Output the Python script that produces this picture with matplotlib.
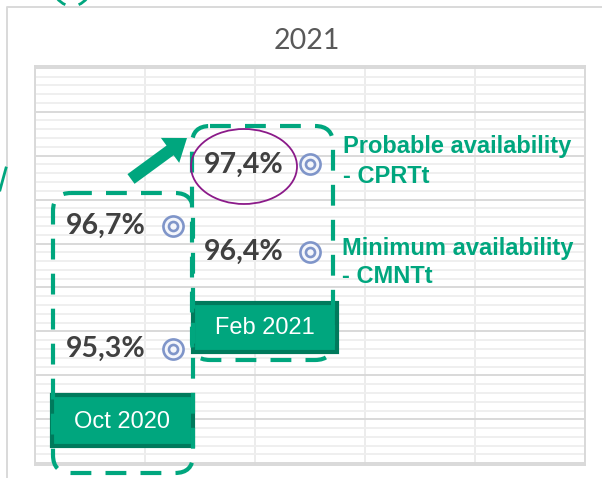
import numpy as np
import matplotlib
matplotlib.use("Agg")
import matplotlib.pyplot as plt
from matplotlib.patches import FancyBboxPatch, Ellipse, FancyArrow, Arc

# data
periods = ['Oct 2020', 'Feb 2021']
x_pos = [1.25, 2.5]
probable = [96.7, 97.4]   # CPRTt
minimum = [95.3, 96.4]    # CMNTt
title = '2021'
series_text = ['Probable availability', '- CPRTt', 'Minimum availability', '- CMNTt']

GREEN = '#00a67e'
GREEN_DARK = '#007a5c'
MARK = '#7f95c9'

W, H = 602, 478
fig = plt.figure(figsize=(W / 100, H / 100), dpi=100)

# plot area (pixels: x 35..585, y 66..465)
ax = fig.add_axes([35 / W, (H - 465) / H, 550 / W, 399 / H])
ax.set_xlim(0, 5)
ax.set_ylim(93.98, 98.52)
ax.set_xticks(range(6))
ax.set_yticks(np.arange(94.0, 98.51, 0.5))
ax.set_yticks(np.arange(94.0, 98.51, 0.1), minor=True)
ax.grid(axis='y', which='minor', color='#efefef', lw=1.4)
ax.grid(axis='y', which='major', color='#d9d9d9', lw=1.4)
ax.grid(axis='x', which='major', color='#ececec', lw=1.4)
ax.tick_params(which='both', length=0, labelbottom=False, labelleft=False)
ax.set_axisbelow(True)
for s in ax.spines.values():
    s.set_color('#d9d9d9')
    s.set_linewidth(1.4)

# double-circle markers
for ys in (probable, minimum):
    ax.plot(x_pos, ys, ls='none', marker='o', ms=14.5, mfc='#f4f6fb', mec=MARK, mew=1.9)
    ax.plot(x_pos, ys, ls='none', marker='o', ms=6.5, mfc='none', mec=MARK, mew=1.9)
    for x, y in zip(x_pos, ys):
        ax.annotate(f'{y:.1f}%'.replace('.', ','), (x, y), xytext=(-19, 0),
                    textcoords='offset points', ha='right', va='center',
                    fontsize=20.5, fontweight='bold', family='Lato', color='#404040')

# overlay in pixel coordinates for callouts
ov = fig.add_axes([0, 0, 1, 1], facecolor='none')
ov.set_xlim(0, W)
ov.set_ylim(H, 0)
ov.axis('off')

# outer chart border
ov.plot([7, 7, W], [H, 7, 7], color='#d9d9d9', lw=1.4)
# fragments of neighbouring shapes
ov.add_patch(Arc((72, -20), 42, 52, theta1=20, theta2=75, color=GREEN, lw=2))
ov.add_patch(Arc((72, -20), 42, 52, theta1=105, theta2=160, color=GREEN, lw=2))
ov.plot([0, 6], [190, 168], color=GREEN, lw=2)

ov.text(307, 49, title, ha='center', va='baseline', fontsize=20.5, family='Lato', color='#595959')

# period boxes
boxes = [(52, 395, 141, 51), (193, 303, 144, 49)]
for (bx, by, bw, bh), name in zip(boxes, periods):
    ov.add_patch(FancyBboxPatch((bx, by), bw, bh, boxstyle='square,pad=0',
                                fc=GREEN, ec=GREEN_DARK, lw=3))
    ov.text(bx + bw / 2, by + bh / 2 + 1, name, ha='center', va='center', fontsize=17,
            family='Liberation Sans', color='white')

# dashed rounded frames
for fx, fy, fw, fh in [(53, 193, 140, 280), (192, 126, 141, 234)]:
    ov.add_patch(FancyBboxPatch((fx, fy), fw, fh, boxstyle='round,pad=0,rounding_size=18',
                                fc='none', ec=GREEN, lw=3, ls=(0, (5, 3.4))))

# arrow between periods
ov.add_patch(FancyArrow(131, 179, 56, -41, width=12, head_width=31, head_length=21,
                        length_includes_head=True, color=GREEN, lw=0))

# highlight ellipse
ov.add_patch(Ellipse((244, 166.5), 106, 75, fc='none', ec='#8b1a89', lw=1.3))

# series labels
for (tx, ty), s in zip([(343, 153), (343, 183), (342, 255), (342, 283)], series_text):
    ov.text(tx, ty, s, ha='left', va='baseline', fontsize=17, fontweight='bold',
            family='Liberation Sans', color=GREEN)

fig.savefig('out.png', dpi=100)
